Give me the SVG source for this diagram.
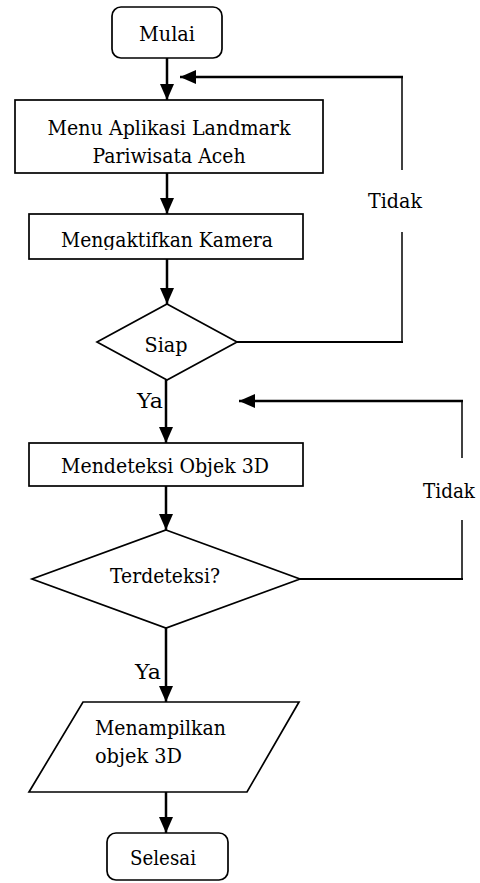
<svg xmlns="http://www.w3.org/2000/svg" width="480" height="883" viewBox="0 0 480 883">
<defs>
<marker id="ahb" viewBox="0 0 16 14" refX="16" refY="7" markerWidth="16" markerHeight="14" markerUnits="userSpaceOnUse" orient="auto">
<path d="M0,0 L16,7 L0,14 Z" fill="#000"/>
</marker>
<clipPath id="ck"><rect x="29" y="214" width="274" height="36"/></clipPath>
<clipPath id="cd"><rect x="29" y="443" width="274" height="34"/></clipPath>
</defs>
<style>
.s{fill:#fff;stroke:#000;stroke-width:1.7}
text{font-family:'DejaVu Serif',serif;font-size:21px;fill:#000}
.c{text-anchor:middle}
.a{fill:none;stroke:#000;stroke-width:2.5;marker-end:url(#ahb)}
.l{fill:none;stroke:#000;stroke-width:1.5}
.h{fill:none;stroke:#000;stroke-width:2.2}
</style>
<g id="connectors">
<line class="a" x1="167" y1="58" x2="167" y2="100"/>
<line class="a" x1="167" y1="173" x2="167" y2="214"/>
<line class="a" x1="167" y1="259" x2="167" y2="304"/>
<line class="a" x1="166" y1="380" x2="166" y2="443"/>
<line class="a" x1="166" y1="486" x2="166" y2="530"/>
<line class="a" x1="166" y1="628" x2="166" y2="702"/>
<line class="a" x1="166" y1="792" x2="166" y2="833"/>
<line class="h" x1="237" y1="342" x2="403" y2="342"/>
<line class="l" x1="402" y1="342" x2="402" y2="232"/>
<line class="l" x1="402" y1="170" x2="402" y2="77"/>
<line class="a" x1="403" y1="77" x2="180" y2="77"/>
<text x="395" y="208" text-anchor="middle" textLength="54" lengthAdjust="spacingAndGlyphs">Tidak</text>
<line class="h" x1="300" y1="579" x2="463" y2="579"/>
<line class="l" x1="462" y1="579" x2="462" y2="520"/>
<line class="l" x1="462" y1="458" x2="462" y2="401"/>
<line class="a" x1="463" y1="401" x2="239" y2="401"/>
<text x="449" y="498" text-anchor="middle" textLength="52" lengthAdjust="spacingAndGlyphs">Tidak</text>
<text x="137" y="408" textLength="26" lengthAdjust="spacingAndGlyphs">Ya</text>
<text x="135" y="679" textLength="26" lengthAdjust="spacingAndGlyphs">Ya</text>
</g>
<g id="mulai">
<rect class="s" x="112" y="7" width="110" height="51" rx="9"/>
<text class="c" x="167" y="41" textLength="56" lengthAdjust="spacingAndGlyphs">Mulai</text>
</g>
<g id="menu">
<rect class="s" x="15" y="100" width="308" height="73"/>
<text class="c" x="169" y="135" textLength="243" lengthAdjust="spacingAndGlyphs">Menu Aplikasi Landmark</text>
<text class="c" x="169" y="163" textLength="153" lengthAdjust="spacingAndGlyphs">Pariwisata Aceh</text>
</g>
<g id="kamera">
<rect class="s" x="29" y="214" width="274" height="45"/>
<text class="c" x="167" y="247" textLength="212" lengthAdjust="spacingAndGlyphs" clip-path="url(#ck)">Mengaktifkan Kamera</text>
</g>
<g id="siap">
<polygon class="s" points="167,304 237,342 167,380 97,342"/>
<text class="c" x="166" y="352" textLength="43" lengthAdjust="spacingAndGlyphs">Siap</text>
</g>
<g id="deteksi">
<rect class="s" x="29" y="443" width="274" height="43"/>
<text class="c" x="165" y="473" textLength="208" lengthAdjust="spacingAndGlyphs" clip-path="url(#cd)">Mendeteksi Objek 3D</text>
</g>
<g id="terdeteksi">
<polygon class="s" points="166,530 300,579 166,628 32,579"/>
<text class="c" x="165" y="583" textLength="110" lengthAdjust="spacingAndGlyphs">Terdeteksi?</text>
</g>
<g id="tampil">
<polygon class="s" points="83,702 299,702 247,792 29,792"/>
<text x="95" y="735" textLength="131" lengthAdjust="spacingAndGlyphs">Menampilkan</text>
<text x="95" y="763" textLength="87" lengthAdjust="spacingAndGlyphs">objek 3D</text>
</g>
<g id="selesai">
<rect class="s" x="107" y="833" width="121" height="47" rx="9"/>
<text class="c" x="163" y="865" textLength="66" lengthAdjust="spacingAndGlyphs">Selesai</text>
</g>
</svg>
